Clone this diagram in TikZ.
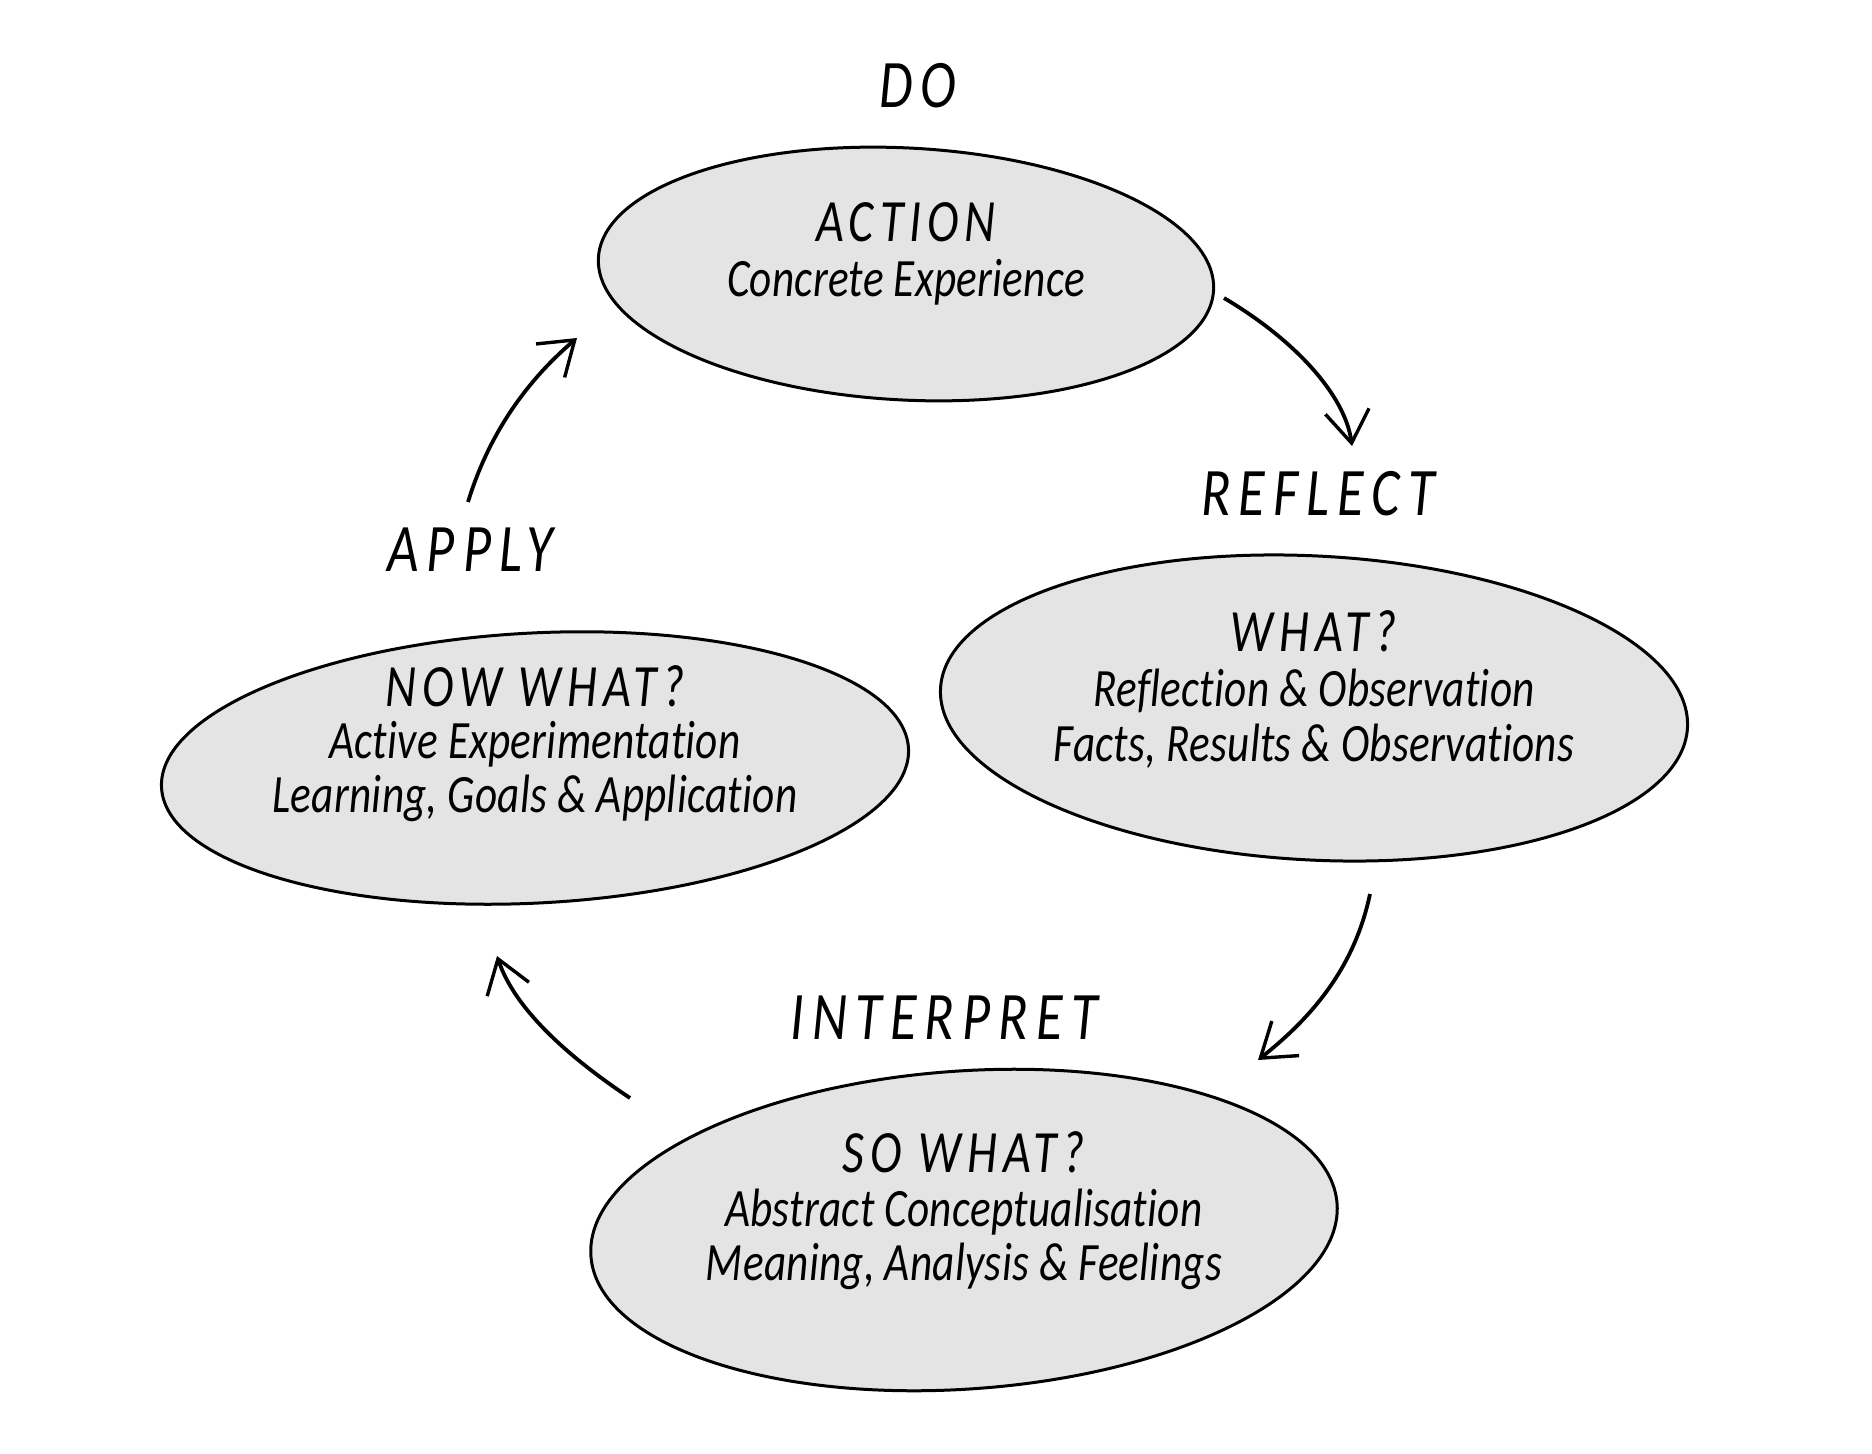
\documentclass[tikz,border=0pt]{standalone}
\usepackage{fontspec}
\setmainfont{Carlito}[FakeStretch=0.8, Ligatures=NoCommon]
\usetikzlibrary{shapes.geometric,arrows.meta}
\definecolor{blobfill}{HTML}{E4E4E4}
\begin{document}
\begin{tikzpicture}[x=1pt,y=-1pt,
  blob/.style={ellipse, draw=black, fill=blobfill, line width=3pt, inner sep=0pt},
  title/.style={font=\fontsize{60}{64}\selectfont\itshape\addfontfeature{LetterSpace=10}, inner sep=0pt},
  body/.style={font=\fontsize{54}{58}\selectfont\itshape\addfontfeature{LetterSpace=0.5}, inner sep=0pt},
  phase/.style={font=\fontsize{68}{72}\selectfont\itshape\addfontfeature{LetterSpace=12}, inner sep=0pt},
  flow/.style={line width=3.8pt, -{Straight Barb[length=32pt,width=44pt,line width=3.4pt]}}
]
\useasboundingbox (0,0) rectangle (1872,1454);
\fill[white] (0,0) rectangle (1872,1454);

% ellipses
\node[blob, minimum width=616pt, minimum height=252pt, rotate=-3] (action) at (906,274) {};
\node[blob, minimum width=748pt, minimum height=304pt, rotate=-3] (what) at (1314,708) {};
\node[blob, minimum width=748pt, minimum height=270pt, rotate=3] (nowwhat) at (535,768) {};
\node[blob, minimum width=748pt, minimum height=318pt, rotate=4] (sowhat) at (964,1230) {};

% phase labels
\node[phase] (do) at (918,86) {DO};
\node[phase] (reflect) at (1318,494) {REFLECT};
\node[phase] (apply) at (470,550) {APPLY};
\node[phase] (interpret) at (944,1018) {INTERPRET};

% texts inside
\node[title] (t1) at (906,222) {ACTION};
\node[body]  (t1a) at (906,282) {Concrete Experience};

\node[title] (t2) at (1314,631) {WHAT?};
\node[body]  (t2a) at (1314,691) {Reflection \& Observation};
\node[body]  (t2b) at (1314,746) {Facts, Results \& Observations};

\node[title] (t3) at (535,686) {NOW WHAT?};
\node[body]  (t3a) at (535,744) {Active Experimentation};
\node[body]  (t3b) at (535,798) {Learning, Goals \& Application};

\node[title] (t4) at (964,1152) {SO WHAT?};
\node[body]  (t4a) at (964,1212) {Abstract Conceptualisation};
\node[body]  (t4b) at (964,1266) {Meaning, Analysis \& Feelings};

% arrow end points
\coordinate (a1s) at (1224,298);
\coordinate (a1e) at (1352,446);
\coordinate (a2s) at (1370,894);
\coordinate (a2e) at (1258,1060);
\coordinate (a3s) at (630,1098);
\coordinate (a3e) at (497,956);
\coordinate (a4s) at (468,502);
\coordinate (a4e) at (577,338);

\draw[flow] (a1s) .. controls (1295,340) and (1345,395) .. (a1e);
\draw[flow] (a2s) .. controls (1355,965) and (1315,1015) .. (a2e);
\draw[flow] (a3s) .. controls (570,1058) and (515,1010) .. (a3e);
\draw[flow] (a4s) .. controls (490,430) and (530,378) .. (a4e);
\end{tikzpicture}
\end{document}
